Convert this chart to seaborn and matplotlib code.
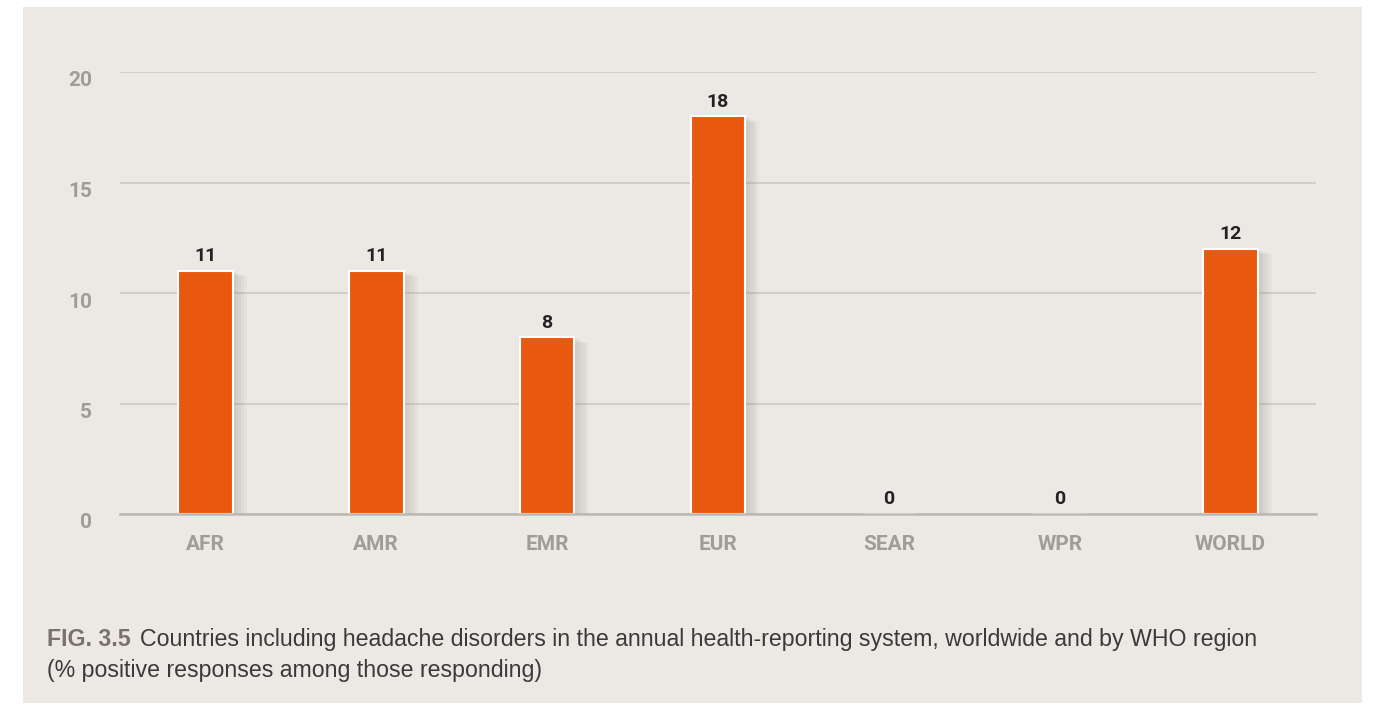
import matplotlib
matplotlib.use("Agg")
import matplotlib.pyplot as plt
import matplotlib.patches as patches
import matplotlib.patheffects as pe
import matplotlib.transforms as mtransforms
import seaborn as sns
import pandas as pd

# Data
regions = ["AFR", "AMR", "EMR", "EUR", "SEAR", "WPR", "WORLD"]
percent_positive = [11, 11, 8, 18, 0, 0, 12]
y_ticks = [0, 5, 10, 15, 20]

df = pd.DataFrame({"Region": regions, "Percent": percent_positive})

bg = "#ECE9E4"
bar_color = "#E8590F"
tick_gray = "#A09C98"

sns.set_style("white")
plt.rcParams["font.family"] = ["Roboto", "DejaVu Sans"]

fig = plt.figure(figsize=(13.76, 7.05), dpi=100)
fig.patch.set_facecolor("white")

# beige panel behind everything
panel = patches.Rectangle((23 / 1376, 2 / 705), (1362 - 23) / 1376, (703 - 7) / 705,
                          transform=fig.transFigure, facecolor=bg, edgecolor="none", zorder=-10)
fig.patches.append(panel)

ax = fig.add_axes([120 / 1376, (705 - 514) / 705, (1316 - 120) / 1376, (514 - 72) / 705])
ax.set_facecolor(bg)

sns.barplot(data=df, x="Region", y="Percent", color=bar_color, width=0.32,
            saturation=1, edgecolor="white", linewidth=1.5, ax=ax, zorder=3)

# soft-ish drop shadow: several faint layers
shadow = [pe.SimplePatchShadow(offset=(d, -d * 0.4), shadow_rgbFace="#8f8a83", alpha=0.07)
          for d in (2, 4, 6, 8, 10)]
for bar in ax.patches:
    bar.set_path_effects(shadow + [pe.Normal()])

# value labels
for i, v in enumerate(percent_positive):
    ax.annotate(f"{v}", (i, v), xytext=(0, 4), textcoords="offset points",
                ha="center", va="bottom", fontsize=14, color="#222222", fontweight="bold")

ax.set_xlim(-0.5, 6.5)
ax.set_ylim(0, 20)
ax.set_yticks(y_ticks)
ax.yaxis.grid(True, color="#C9C5BF", linewidth=1.1, zorder=0)
ax.set_axisbelow(True)
for s in ["top", "right", "left"]:
    ax.spines[s].set_visible(False)
ax.spines["bottom"].set_color("#BDB8B0")
ax.spines["bottom"].set_linewidth(1.8)
ax.spines["bottom"].set_zorder(4)

ax.tick_params(axis="both", length=0, labelsize=15, labelcolor=tick_gray)
ax.tick_params(axis="y", pad=20)
ax.tick_params(axis="x", pad=15)
shift_down = mtransforms.ScaledTranslation(0, -7 / 100, fig.dpi_scale_trans)
for lab in ax.get_yticklabels():
    lab.set_transform(lab.get_transform() + shift_down)
for lab in ax.get_xticklabels() + ax.get_yticklabels():
    lab.set_fontweight("bold")
ax.set_xlabel("")
ax.set_ylabel("")

# caption
cap_font = ["Liberation Sans", "DejaVu Sans"]
fig_lbl = fig.text(47 / 1376, 1 - 646 / 705, "FIG. 3.5", fontsize=16.7, color="#7A7270",
                   fontweight="bold", family=cap_font, va="baseline")
ax.annotate("Countries including headache disorders in the annual health-reporting system, worldwide and by WHO region",
            xy=(1, 0), xycoords=fig_lbl, xytext=(7, 0), textcoords="offset points",
            fontsize=16.7, color="#3C3A38", family=cap_font, va="bottom", annotation_clip=False)
fig.text(47 / 1376, 1 - 677 / 705, "(% positive responses among those responding)", fontsize=16.7,
         color="#3C3A38", family=cap_font, va="baseline")

fig.savefig("out.png", dpi=100, facecolor=fig.get_facecolor())
